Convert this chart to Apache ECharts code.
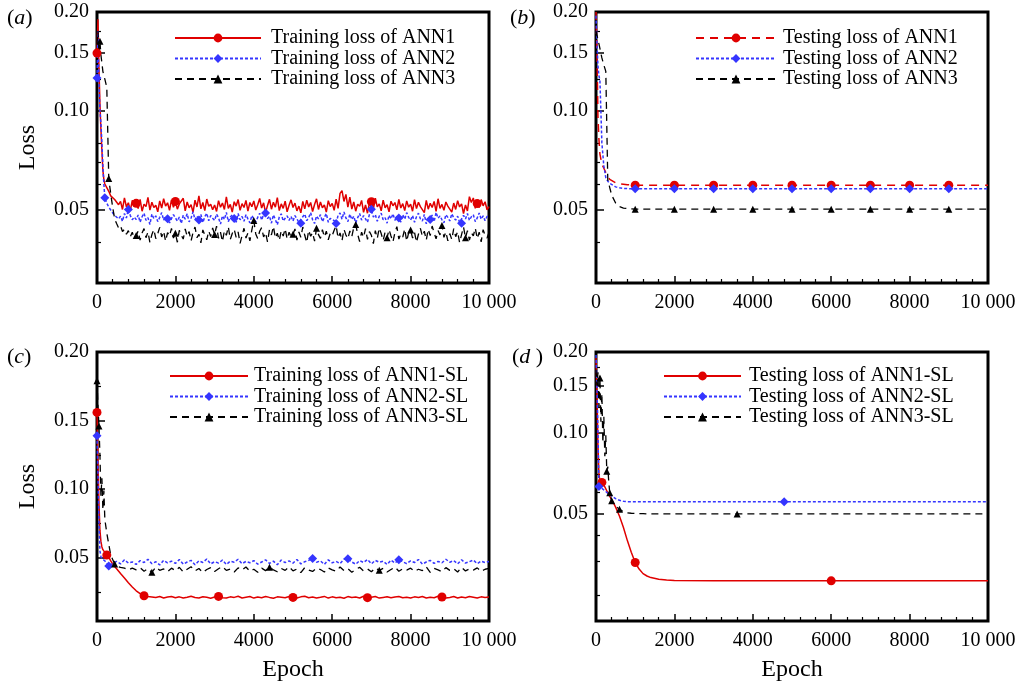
<!DOCTYPE html>
<html>
<head>
<meta charset="utf-8">
<title>Loss curves</title>
<script src="https://cdn.jsdelivr.net/npm/echarts@6.0.0/dist/echarts.min.js"></script>
<style>
  html, body { margin: 0; padding: 0; background: #fff; }
  #chart { width: 1023px; height: 686px; }
</style>
</head>
<body>
<div id="chart"></div>
<script>
// ---- axis ticks ----
const xTickValues = [0, 2000, 4000, 6000, 8000, 10000];
const xTickLabels = ['0', '2000', '4000', '6000', '8000', '10 000'];
const yTickValues = [0.05, 0.10, 0.15, 0.20];
const yTickLabels = ['0.05', '0.10', '0.15', '0.20'];
const yMinorLog = [0.04, 0.06, 0.07, 0.08, 0.125, 0.175];
const yMinorLin = [0.025, 0.075, 0.125, 0.175];
const yMinorLogD = [0.025, 0.0333, 0.0415, 0.06, 0.07, 0.08, 0.125, 0.175];

// ---- epochs of the training history in panel (a) ----
const epochTrainA = [
  0, 25, 50, 75, 100, 125, 150, 175, 200, 250, 300, 350, 400, 450,
  500, 550, 600, 650, 700, 750, 800, 850, 900, 950,
  1000, 1050, 1100, 1150, 1200, 1250, 1300, 1350, 1400, 1450, 1500, 1550, 1600, 1650, 1700, 1750, 1800, 1850, 1900, 1950,
  2000, 2050, 2100, 2150, 2200, 2250, 2300, 2350, 2400, 2450, 2500, 2550, 2600, 2650, 2700, 2750, 2800, 2850, 2900, 2950,
  3000, 3050, 3100, 3150, 3200, 3250, 3300, 3350, 3400, 3450, 3500, 3550, 3600, 3650, 3700, 3750, 3800, 3850, 3900, 3950,
  4000, 4050, 4100, 4150, 4200, 4250, 4300, 4350, 4400, 4450, 4500, 4550, 4600, 4650, 4700, 4750, 4800, 4850, 4900, 4950,
  5000, 5050, 5100, 5150, 5200, 5250, 5300, 5350, 5400, 5450, 5500, 5550, 5600, 5650, 5700, 5750, 5800, 5850, 5900, 5950,
  6000, 6050, 6100, 6150, 6200, 6250, 6300, 6350, 6400, 6450, 6500, 6550, 6600, 6650, 6700, 6750, 6800, 6850, 6900, 6950,
  7000, 7050, 7100, 7150, 7200, 7250, 7300, 7350, 7400, 7450, 7500, 7550, 7600, 7650, 7700, 7750, 7800, 7850, 7900, 7950,
  8000, 8050, 8100, 8150, 8200, 8250, 8300, 8350, 8400, 8450, 8500, 8550, 8600, 8650, 8700, 8750, 8800, 8850, 8900, 8950,
  9000, 9050, 9100, 9150, 9200, 9250, 9300, 9350, 9400, 9450, 9500, 9550, 9600, 9650, 9700, 9750, 9800, 9850, 9900, 9950,
  10000
];

// (a) training loss
const trainAnn1 = [
  0.150, 0.190, 0.135, 0.105, 0.088, 0.076, 0.066, 0.062, 0.060, 0.0585, 0.0570, 0.0552, 0.0545, 0.0538,
  0.0538, 0.0519, 0.0531, 0.0502, 0.0544, 0.0511, 0.0526, 0.0498, 0.0535, 0.0515,
  0.0524, 0.0505, 0.0539, 0.0496, 0.0521, 0.0512, 0.0546, 0.0500, 0.0528, 0.0509, 0.0517, 0.0494, 0.0533, 0.0507, 0.0541, 0.0514, 0.0526, 0.0499, 0.0537, 0.0510,
  0.0531, 0.0503, 0.0522, 0.0515, 0.0543, 0.0497, 0.0529, 0.0508, 0.0519, 0.0492, 0.0536, 0.0511, 0.0552, 0.0504, 0.0527, 0.0498, 0.0540, 0.0513, 0.0521, 0.0501,
  0.0518, 0.0495, 0.0534, 0.0510, 0.0525, 0.0502, 0.0548, 0.0506, 0.0520, 0.0493, 0.0530, 0.0514, 0.0538, 0.0499, 0.0523, 0.0509, 0.0535, 0.0496, 0.0527, 0.0512,
  0.0533, 0.0500, 0.0519, 0.0542, 0.0507, 0.0526, 0.0491, 0.0516, 0.0539, 0.0503, 0.0528, 0.0510, 0.0545, 0.0498, 0.0522, 0.0506, 0.0532, 0.0494, 0.0517, 0.0537,
  0.0509, 0.0525, 0.0497, 0.0514, 0.0490, 0.0531, 0.0504, 0.0536, 0.0511, 0.0527, 0.0495, 0.0520, 0.0541, 0.0502, 0.0529, 0.0508, 0.0518, 0.0493, 0.0534, 0.0512,
  0.0524, 0.0499, 0.0540, 0.0506, 0.0562, 0.0573, 0.0531, 0.0558, 0.0510, 0.0547, 0.0503, 0.0529, 0.0496, 0.0521, 0.0513, 0.0535, 0.0492, 0.0518, 0.0489, 0.0526,
  0.0530, 0.0504, 0.0543, 0.0511, 0.0522, 0.0497, 0.0536, 0.0508, 0.0519, 0.0494, 0.0532, 0.0515, 0.0527, 0.0501, 0.0539, 0.0507, 0.0523, 0.0498, 0.0533, 0.0510,
  0.0521, 0.0496, 0.0538, 0.0505, 0.0528, 0.0512, 0.0517, 0.0491, 0.0535, 0.0503, 0.0524, 0.0509, 0.0531, 0.0495, 0.0541, 0.0506, 0.0520, 0.0499, 0.0529, 0.0514,
  0.0516, 0.0493, 0.0525, 0.0502, 0.0534, 0.0511, 0.0522, 0.0488, 0.0518, 0.0497, 0.0549, 0.0527, 0.0544, 0.0506, 0.0523, 0.0509, 0.0538, 0.0515, 0.0530, 0.0501,
  0.0512
];
const trainAnn2 = [
  0.126, 0.175, 0.120, 0.100, 0.092, 0.080, 0.068, 0.060, 0.0545, 0.0525, 0.0510, 0.0500, 0.0490, 0.0482,
  0.0484, 0.0470, 0.0479, 0.0462, 0.0488, 0.0473, 0.0502, 0.0481, 0.0467, 0.0476,
  0.0468, 0.0483, 0.0459, 0.0477, 0.0489, 0.0465, 0.0474, 0.0452, 0.0486, 0.0471, 0.0480, 0.0461, 0.0475, 0.0491, 0.0466, 0.0478, 0.0470, 0.0457, 0.0471, 0.0484,
  0.0490, 0.0463, 0.0476, 0.0455, 0.0482, 0.0469, 0.0487, 0.0460, 0.0473, 0.0494, 0.0467, 0.0479, 0.0466, 0.0485, 0.0458, 0.0477, 0.0489, 0.0464, 0.0481, 0.0472,
  0.0465, 0.0486, 0.0474, 0.0453, 0.0480, 0.0468, 0.0492, 0.0461, 0.0476, 0.0483, 0.0471, 0.0459, 0.0488, 0.0467, 0.0478, 0.0462, 0.0484, 0.0470, 0.0457, 0.0481,
  0.0482, 0.0460, 0.0475, 0.0489, 0.0466, 0.0485, 0.0490, 0.0471, 0.0479, 0.0456, 0.0483, 0.0468, 0.0451, 0.0476, 0.0487, 0.0463, 0.0472, 0.0480, 0.0465, 0.0478,
  0.0463, 0.0481, 0.0470, 0.0458, 0.0456, 0.0477, 0.0486, 0.0464, 0.0474, 0.0491, 0.0467, 0.0455, 0.0479, 0.0470, 0.0484, 0.0461, 0.0475, 0.0488, 0.0459, 0.0472,
  0.0478, 0.0464, 0.0455, 0.0482, 0.0490, 0.0469, 0.0493, 0.0473, 0.0461, 0.0486, 0.0468, 0.0479, 0.0457, 0.0474, 0.0488, 0.0466, 0.0481, 0.0470, 0.0459, 0.0485,
  0.0503, 0.0476, 0.0484, 0.0462, 0.0479, 0.0489, 0.0467, 0.0474, 0.0456, 0.0482, 0.0470, 0.0487, 0.0465, 0.0478, 0.0473, 0.0460, 0.0484, 0.0469, 0.0491, 0.0475,
  0.0466, 0.0481, 0.0459, 0.0477, 0.0489, 0.0470, 0.0463, 0.0485, 0.0454, 0.0476, 0.0468, 0.0483, 0.0461, 0.0492, 0.0472, 0.0480, 0.0467, 0.0457, 0.0484, 0.0475,
  0.0463, 0.0487, 0.0474, 0.0466, 0.0479, 0.0458, 0.0456, 0.0482, 0.0470, 0.0488, 0.0465, 0.0477, 0.0484, 0.0461, 0.0473, 0.0490, 0.0469, 0.0480, 0.0464, 0.0478,
  0.0481
];
const trainAnn3 = [
  0.160, 0.175, 0.150, 0.163, 0.148, 0.140, 0.132, 0.128, 0.125, 0.118, 0.0623, 0.0560, 0.0510, 0.0470,
  0.0455, 0.0441, 0.0448, 0.0430, 0.0437, 0.0422, 0.0433, 0.0415, 0.0428, 0.0410,
  0.0418, 0.0432, 0.0405, 0.0426, 0.0439, 0.0412, 0.0429, 0.0398, 0.0421, 0.0436, 0.0409, 0.0424, 0.0443, 0.0414, 0.0431, 0.0402, 0.0427, 0.0417, 0.0440, 0.0411,
  0.0425, 0.0399, 0.0434, 0.0419, 0.0408, 0.0438, 0.0416, 0.0430, 0.0403, 0.0427, 0.0444, 0.0412, 0.0422, 0.0397, 0.0435, 0.0420, 0.0406, 0.0432, 0.0415, 0.0441,
  0.0421, 0.0447, 0.0410, 0.0428, 0.0401, 0.0433, 0.0419, 0.0445, 0.0407, 0.0424, 0.0437, 0.0413, 0.0429, 0.0396, 0.0418, 0.0440, 0.0411, 0.0426, 0.0403, 0.0435,
  0.0465, 0.0423, 0.0409, 0.0431, 0.0442, 0.0414, 0.0427, 0.0400, 0.0436, 0.0420, 0.0446, 0.0411, 0.0425, 0.0404, 0.0433, 0.0417, 0.0439, 0.0408, 0.0428, 0.0415,
  0.0422, 0.0438, 0.0405, 0.0429, 0.0413, 0.0444, 0.0419, 0.0398, 0.0434, 0.0416, 0.0427, 0.0402, 0.0440, 0.0421, 0.0410, 0.0436, 0.0414, 0.0431, 0.0406, 0.0425,
  0.0418, 0.0434, 0.0448, 0.0411, 0.0426, 0.0403, 0.0437, 0.0420, 0.0409, 0.0432, 0.0415, 0.0443, 0.0452, 0.0422, 0.0401, 0.0428, 0.0413, 0.0439, 0.0407, 0.0430,
  0.0419, 0.0395, 0.0433, 0.0410, 0.0441, 0.0424, 0.0404, 0.0429, 0.0412, 0.0436, 0.0417, 0.0400, 0.0427, 0.0445, 0.0408, 0.0423, 0.0414, 0.0438, 0.0402, 0.0426,
  0.0435, 0.0411, 0.0428, 0.0399, 0.0422, 0.0440, 0.0416, 0.0431, 0.0405, 0.0437, 0.0418, 0.0447, 0.0426, 0.0409, 0.0433, 0.0420, 0.0449, 0.0413, 0.0429, 0.0403,
  0.0424, 0.0407, 0.0439, 0.0415, 0.0430, 0.0398, 0.0421, 0.0444, 0.0412, 0.0433, 0.0405, 0.0426, 0.0417, 0.0441, 0.0409, 0.0428, 0.0400, 0.0436, 0.0419, 0.0411,
  0.0427
];

// ---- epochs of the training history in panel (c) ----
const epochTrainC = [
  0, 25, 50, 75, 100, 125, 150, 175, 200, 250, 300, 350, 400, 450,
  500, 600, 700, 800, 900,
  1000, 1100, 1200, 1300, 1400, 1500, 1600, 1700, 1800, 1900,
  2000, 2100, 2200, 2300, 2400, 2500, 2600, 2700, 2800, 2900,
  3000, 3100, 3200, 3300, 3400, 3500, 3600, 3700, 3800, 3900,
  4000, 4100, 4200, 4300, 4400, 4500, 4600, 4700, 4800, 4900,
  5000, 5100, 5200, 5300, 5400, 5500, 5600, 5700, 5800, 5900,
  6000, 6100, 6200, 6300, 6400, 6500, 6600, 6700, 6800, 6900,
  7000, 7100, 7200, 7300, 7400, 7500, 7600, 7700, 7800, 7900,
  8000, 8100, 8200, 8300, 8400, 8500, 8600, 8700, 8800, 8900,
  9000, 9100, 9200, 9300, 9400, 9500, 9600, 9700, 9800, 9900,
  10000
];

// (c) training loss with SL
const trainSl1 = [
  0.156, 0.120, 0.090, 0.070, 0.062, 0.058, 0.056, 0.055, 0.054, 0.052, 0.0505, 0.0478, 0.0456, 0.0437,
  0.0420, 0.0386, 0.0353, 0.0319, 0.0288,
  0.0260, 0.0239, 0.0224, 0.0218, 0.0215, 0.0211, 0.0218, 0.0208, 0.0215, 0.0219,
  0.0210, 0.0216, 0.0207, 0.0213, 0.0220, 0.0211, 0.0208, 0.0217, 0.0213, 0.0206,
  0.0215, 0.0219, 0.0210, 0.0207, 0.0216, 0.0212, 0.0220, 0.0208, 0.0213, 0.0218,
  0.0207, 0.0215, 0.0210, 0.0219, 0.0212, 0.0206, 0.0216, 0.0213, 0.0209, 0.0218,
  0.0212, 0.0207, 0.0216, 0.0220, 0.0210, 0.0215, 0.0208, 0.0213, 0.0219, 0.0207,
  0.0216, 0.0210, 0.0213, 0.0206, 0.0218, 0.0212, 0.0215, 0.0208, 0.0220, 0.0210,
  0.0213, 0.0218, 0.0207, 0.0212, 0.0216, 0.0209, 0.0215, 0.0219, 0.0210, 0.0213,
  0.0207, 0.0216, 0.0212, 0.0218, 0.0208, 0.0213, 0.0210, 0.0220, 0.0215, 0.0207,
  0.0212, 0.0218, 0.0208, 0.0215, 0.0210, 0.0219, 0.0213, 0.0207, 0.0216, 0.0212,
  0.0215
];
const trainSl2 = [
  0.139, 0.110, 0.075, 0.055, 0.051, 0.0495, 0.049, 0.0485, 0.0478, 0.0460, 0.0440, 0.0446, 0.0460, 0.0468,
  0.0474, 0.0456, 0.0486, 0.0462, 0.0470,
  0.0452, 0.0480, 0.0466, 0.0490, 0.0458, 0.0472, 0.0448, 0.0482, 0.0464, 0.0476,
  0.0460, 0.0488, 0.0454, 0.0470, 0.0482, 0.0450, 0.0478, 0.0466, 0.0492, 0.0456,
  0.0472, 0.0462, 0.0484, 0.0452, 0.0476, 0.0468, 0.0490, 0.0458, 0.0474, 0.0464,
  0.0480, 0.0454, 0.0470, 0.0486, 0.0460, 0.0476, 0.0450, 0.0484, 0.0466, 0.0478,
  0.0462, 0.0488, 0.0456, 0.0472, 0.0482, 0.0496, 0.0468, 0.0478, 0.0452, 0.0486,
  0.0464, 0.0474, 0.0458, 0.0490, 0.0494, 0.0470, 0.0454, 0.0480, 0.0466, 0.0488,
  0.0456, 0.0482, 0.0468, 0.0476, 0.0452, 0.0484, 0.0462, 0.0486, 0.0472, 0.0458,
  0.0478, 0.0466, 0.0488, 0.0454, 0.0470, 0.0482, 0.0460, 0.0474, 0.0464, 0.0490,
  0.0468, 0.0480, 0.0456, 0.0486, 0.0462, 0.0472, 0.0484, 0.0458, 0.0476, 0.0466,
  0.0474
];
const trainSl3 = [
  0.179, 0.160, 0.146, 0.125, 0.095, 0.108, 0.085, 0.099, 0.078, 0.068, 0.060, 0.052, 0.0488, 0.0455,
  0.0440, 0.0430, 0.0425, 0.0412, 0.0425,
  0.0413, 0.0429, 0.0403, 0.0421, 0.0395, 0.0433, 0.0409, 0.0419, 0.0399, 0.0425,
  0.0407, 0.0431, 0.0397, 0.0417, 0.0435, 0.0405, 0.0423, 0.0393, 0.0415, 0.0429,
  0.0401, 0.0421, 0.0437, 0.0409, 0.0419, 0.0397, 0.0427, 0.0411, 0.0433, 0.0403,
  0.0417, 0.0395, 0.0425, 0.0407, 0.0431, 0.0413, 0.0399, 0.0423, 0.0409, 0.0435,
  0.0405, 0.0419, 0.0393, 0.0429, 0.0411, 0.0401, 0.0425, 0.0415, 0.0397, 0.0427,
  0.0413, 0.0403, 0.0433, 0.0407, 0.0421, 0.0395, 0.0417, 0.0431, 0.0405, 0.0419,
  0.0399, 0.0427, 0.0409, 0.0423, 0.0397, 0.0415, 0.0433, 0.0403, 0.0421, 0.0411,
  0.0425, 0.0401, 0.0417, 0.0407, 0.0435, 0.0395, 0.0423, 0.0413, 0.0399, 0.0429,
  0.0409, 0.0421, 0.0397, 0.0431, 0.0405, 0.0419, 0.0411, 0.0427, 0.0401, 0.0417,
  0.0423
];

// (b) testing loss
const epochTestB = [0, 25, 50, 75, 100, 150, 200, 250, 300, 350, 400, 500, 600, 700, 800, 900,
  1000, 2000, 3000, 4000, 5000, 6000, 7000, 8000, 9000, 10000];
const testAnn1 = [0.200, 0.150, 0.096, 0.082, 0.074, 0.069, 0.067, 0.0650, 0.0635, 0.0620, 0.0612, 0.0605, 0.0601, 0.0599, 0.0597, 0.0596,
  0.0595, 0.0595, 0.0595, 0.0595, 0.0595, 0.0595, 0.0595, 0.0595, 0.0595, 0.0595];
const testAnn2 = [0.195, 0.160, 0.137, 0.128, 0.124, 0.080, 0.068, 0.0627, 0.0612, 0.0603, 0.0596, 0.0588, 0.0584, 0.0582, 0.0581, 0.0580,
  0.0580, 0.0580, 0.0580, 0.0580, 0.0580, 0.0580, 0.0580, 0.0580, 0.0580, 0.0580];
const testAnn3 = [0.175, 0.170, 0.165, 0.160, 0.155, 0.145, 0.138, 0.132, 0.062, 0.0585, 0.0555, 0.0525, 0.0512, 0.0507, 0.0505, 0.0504,
  0.0503, 0.0503, 0.0503, 0.0503, 0.0503, 0.0503, 0.0503, 0.0503, 0.0503, 0.0503];

// (d) testing loss with SL
const epochTestD = [0, 25, 50, 75, 100, 125, 150, 175, 200, 225, 250, 275, 300, 325, 350,
  400, 450, 500, 600, 700, 800, 900, 1000, 1100, 1200, 1300, 1400, 1600, 1800, 2000,
  3000, 3600, 4000, 4800, 5000, 6000, 7000, 8000, 9000, 10000];
const testSl1 = [0.190, 0.140, 0.090, 0.070, 0.0665, 0.0660, 0.0655, 0.0648, 0.0640, 0.0630, 0.0620, 0.0610, 0.0600, 0.0590, 0.0582,
  0.0565, 0.0548, 0.0530, 0.0490, 0.0445, 0.0398, 0.0360, 0.0330, 0.0312, 0.0300, 0.0294, 0.0290, 0.0286, 0.0284, 0.0283,
  0.0282, 0.0282, 0.0282, 0.0282, 0.0282, 0.0282, 0.0282, 0.0282, 0.0282, 0.0282];
const testSl2 = [0.195, 0.150, 0.100, 0.0632, 0.0630, 0.0626, 0.0622, 0.0618, 0.0614, 0.0610, 0.0605, 0.0600, 0.0597, 0.0593, 0.0590,
  0.0583, 0.0576, 0.0570, 0.0562, 0.0557, 0.0555, 0.0555, 0.0555, 0.0555, 0.0555, 0.0555, 0.0555, 0.0555, 0.0555, 0.0555,
  0.0555, 0.0555, 0.0555, 0.0555, 0.0555, 0.0555, 0.0555, 0.0555, 0.0555, 0.0555];
const testSl3 = [0.172, 0.150, 0.168, 0.125, 0.160, 0.110, 0.140, 0.092, 0.115, 0.082, 0.098, 0.072, 0.075, 0.066, 0.060,
  0.0560, 0.0545, 0.0535, 0.0520, 0.0510, 0.0505, 0.0503, 0.0502, 0.0501, 0.0501, 0.0500, 0.0500, 0.0500, 0.0500, 0.0500,
  0.0500, 0.0500, 0.0500, 0.0500, 0.0500, 0.0500, 0.0500, 0.0500, 0.0500, 0.0500];

// epochs carrying a marker symbol
const markTrainAnn1 = [0, 1000, 2000, 7000, 9700];
const markTrainAnn2 = [0, 200, 800, 1800, 2600, 3500, 4300, 5200, 6100, 7000, 7700, 8500, 9300];
const markTrainAnn3 = [75, 300, 1000, 2000, 3000, 4000, 5000, 5600, 6600, 7400, 8000, 8800, 9400];
const markTestAnn = [1000, 2000, 3000, 4000, 5000, 6000, 7000, 8000, 9000];
const markTrainSl1 = [0, 250, 1200, 3100, 5000, 6900, 8800];
const markTrainSl2 = [0, 300, 5500, 6400, 7700];
const markTrainSl3 = [0, 50, 450, 1400, 4400, 7200];
const markTestSl1 = [150, 1000, 6000];
const markTestSl2 = [75, 4800];
const markTestSl3 = [100, 275, 350, 400, 600, 3600];

// ---- styling ----
const FONT = "'Liberation Serif', 'Times New Roman', serif";
const RED = '#e00000';
const BLUE = '#3535ff';
const BLACK = '#000000';

const chart = echarts.init(document.getElementById('chart'), null, { renderer: 'canvas' });

const gridRects = [
  { left: 97, top: 12, width: 392, height: 271 },
  { left: 596, top: 12, width: 392, height: 271 },
  { left: 97, top: 352, width: 392, height: 269 },
  { left: 596, top: 352, width: 392, height: 269 }
];
const yKinds = ['log', 'log', 'value', 'log'];
const yMins = [0.03, 0.03, 0.004, 0.02];
const yMinors = [yMinorLog, yMinorLog, yMinorLin, yMinorLogD];

function xLabel(v) {
  const k = xTickValues.indexOf(v);
  return k >= 0 ? xTickLabels[k] : '';
}
function yLabel(v) {
  const k = yTickValues.findIndex(t => Math.abs(t - v) < 1e-6);
  return k >= 0 ? yTickLabels[k] : '';
}

const grid = gridRects.map(r => Object.assign({
  show: true, borderColor: '#000', borderWidth: 3, backgroundColor: 'transparent',
  outerBoundsMode: 'none'
}, r));

const xAxis = gridRects.map((r, i) => ({
  gridIndex: i, type: 'value', min: 0, max: 10000, interval: 2000,
  axisLine: { show: false },
  splitLine: { show: false },
  axisTick: { show: true, inside: true, length: 7, lineStyle: { color: '#000', width: 1.5 } },
  minorTick: { show: true, splitNumber: 5, length: 4, lineStyle: { color: '#000', width: 1.2 } },
  minorSplitLine: { show: false },
  axisLabel: { margin: 10, fontFamily: FONT, fontSize: 20, color: '#000', formatter: xLabel, hideOverlap: false },
  name: i >= 2 ? 'Epoch' : '',
  nameLocation: 'middle', nameGap: 37,
  nameTextStyle: { fontFamily: FONT, fontSize: 24, color: '#000' }
}));

const yMain = gridRects.map((r, i) => ({
  gridIndex: i, type: yKinds[i], logBase: 10, min: yMins[i], max: 0.2, position: 'left',
  axisLine: { show: false },
  splitLine: { show: false },
  axisTick: { show: true, inside: true, length: 8, customValues: yTickValues, lineStyle: { color: '#000', width: 1.5 } },
  axisLabel: { customValues: yTickValues, formatter: yLabel, margin: 8, fontFamily: FONT, fontSize: 20, color: '#000' },
  name: (i === 0 || i === 2) ? 'Loss' : '',
  nameLocation: 'middle', nameGap: 57, nameRotate: 90,
  nameTextStyle: { fontFamily: FONT, fontSize: 24, color: '#000' }
}));
const yMinor = gridRects.map((r, i) => ({
  gridIndex: i, type: yKinds[i], logBase: 10, min: yMins[i], max: 0.2, position: 'left',
  axisLine: { show: false },
  splitLine: { show: false },
  axisLabel: { show: false },
  axisTick: { show: true, inside: true, length: 4, customValues: yMinors[i], lineStyle: { color: '#000', width: 1.2 } }
}));

function lineData(epochs, values, marks) {
  return epochs.map((e, i) => marks.indexOf(e) >= 0
    ? [e, values[i]]
    : { value: [e, values[i]], symbol: 'none' });
}

function line(name, panel, epochs, values, marks, color, dash, symbol, size, width) {
  return {
    name, type: 'line', xAxisIndex: panel, yAxisIndex: panel,
    data: lineData(epochs, values, marks),
    symbol, symbolSize: size, showSymbol: true, showAllSymbol: true,
    lineStyle: { color, width, type: dash },
    itemStyle: { color },
    emphasis: { disabled: true },
    silent: true, animation: false
  };
}

const DOT = [3, 2];
const DASH = [7, 5];
const DASH_RED = [8, 6];

const series = [
  line('Training loss of ANN1', 0, epochTrainA, trainAnn1, markTrainAnn1, RED, 'solid', 'circle', 9, 1.5),
  line('Training loss of ANN2', 0, epochTrainA, trainAnn2, markTrainAnn2, BLUE, DOT, 'diamond', 9, 1.5),
  line('Training loss of ANN3', 0, epochTrainA, trainAnn3, markTrainAnn3, BLACK, DASH, 'triangle', 7, 1.3),

  line('Testing loss of ANN1', 1, epochTestB, testAnn1, markTestAnn, RED, DASH_RED, 'circle', 9, 1.5),
  line('Testing loss of ANN2', 1, epochTestB, testAnn2, markTestAnn, BLUE, DOT, 'diamond', 9, 1.5),
  line('Testing loss of ANN3', 1, epochTestB, testAnn3, markTestAnn, BLACK, DASH, 'triangle', 7, 1.3),

  line('Training loss of ANN1-SL', 2, epochTrainC, trainSl1, markTrainSl1, RED, 'solid', 'circle', 9, 1.5),
  line('Training loss of ANN2-SL', 2, epochTrainC, trainSl2, markTrainSl2, BLUE, DOT, 'diamond', 9, 1.5),
  line('Training loss of ANN3-SL', 2, epochTrainC, trainSl3, markTrainSl3, BLACK, DASH, 'triangle', 7, 1.3),

  line('Testing loss of ANN1-SL', 3, epochTestD, testSl1, markTestSl1, RED, 'solid', 'circle', 9, 1.5),
  line('Testing loss of ANN2-SL', 3, epochTestD, testSl2, markTestSl2, BLUE, DOT, 'diamond', 9, 1.5),
  line('Testing loss of ANN3-SL', 3, epochTestD, testSl3, markTestSl3, BLACK, DASH, 'triangle', 7, 1.3)
];

function legendFor(names, left, top, iconWidth, gap) {
  return {
    data: names, orient: 'vertical', left, top,
    itemWidth: iconWidth, itemHeight: 11, itemGap: 0.5,
    selectedMode: false, padding: 0,
    textStyle: { fontFamily: FONT, fontSize: 20, lineHeight: 20, color: '#000', padding: [0, 0, 0, gap] }
  };
}
const legend = [
  legendFor(series.slice(0, 3).map(s => s.name), 174, 28, 86, 5),
  legendFor(series.slice(3, 6).map(s => s.name), 695, 28, 80, 2),
  legendFor(series.slice(6, 9).map(s => s.name), 169, 366, 78, 1),
  legendFor(series.slice(9, 12).map(s => s.name), 663, 366, 77, 3)
];

function panelTag(letter, x, y) {
  return {
    type: 'text', x, y, silent: true,
    style: {
      text: '{p|(}{i|' + letter + '}{p|)}',
      verticalAlign: 'middle', align: 'left',
      rich: {
        p: { fontFamily: FONT, fontSize: 22, fill: '#000' },
        i: { fontFamily: FONT, fontSize: 22, fontStyle: 'italic', fill: '#000' }
      }
    }
  };
}

chart.setOption({
  backgroundColor: '#fff',
  animation: false,
  grid,
  xAxis,
  yAxis: yMain.concat(yMinor),
  legend,
  series,
  graphic: [
    panelTag('a', 7, 18),
    panelTag('b', 510, 18),
    panelTag('c', 7, 357),
    panelTag('d ', 512, 357)
  ]
});
</script>
</body>
</html>
